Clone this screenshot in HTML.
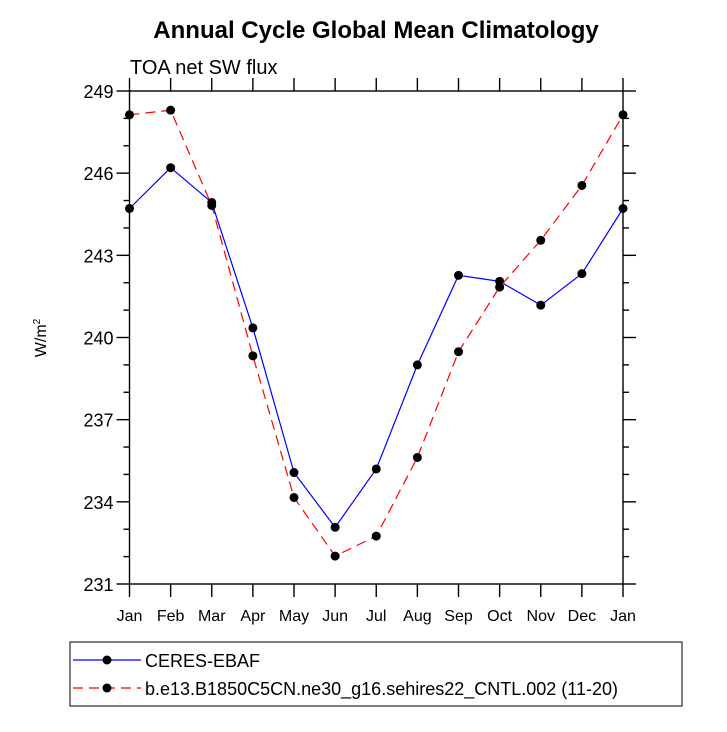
<!DOCTYPE html>
<html><head><meta charset="utf-8"><style>
body{margin:0;background:#fff;}
svg text{font-family:"Liberation Sans",Arial,sans-serif;fill:#000;}
</style></head><body>
<svg id="chart" width="727" height="727" viewBox="0 0 727 727" xmlns="http://www.w3.org/2000/svg">
<text x="376" y="38" text-anchor="middle" font-size="24" font-weight="bold">Annual Cycle Global Mean Climatology</text>
<text x="130" y="74" font-size="20">TOA net SW flux</text>
<text transform="translate(46,338) rotate(-90)" text-anchor="middle" font-size="16">W/m<tspan font-size="10" dy="-6">2</tspan></text>
<g id="axes"></g>
<g id="series"></g>
<g id="legend">
<rect x="70" y="642" width="612" height="64" fill="none" stroke="#000" stroke-width="1"/>
<g>
<line x1="73" y1="660" x2="141" y2="660" stroke="#0000ff" stroke-width="1.2"/>
<circle cx="107" cy="660" r="4.5" fill="#000"/>
<text x="145" y="667" font-size="18">CERES-EBAF</text>
</g>
<g>
<line x1="73" y1="688" x2="141" y2="688" stroke="#ff0000" stroke-width="1.2" stroke-dasharray="10,6"/>
<circle cx="107" cy="688" r="4.5" fill="#000"/>
<text x="145" y="695" font-size="18">b.e13.B1850C5CN.ne30_g16.sehires22_CNTL.002 (11-20)</text>
</g>
</g>
</svg>
<script>
const months = ["Jan","Feb","Mar","Apr","May","Jun","Jul","Aug","Sep","Oct","Nov","Dec","Jan"];
const yTicks = [231,234,237,240,243,246,249];
const ceresValues = [244.71,246.2,244.93,240.35,235.07,233.07,235.2,239.0,242.27,242.05,241.18,242.33,244.71];
const modelValues = [248.13,248.3,244.82,239.33,234.16,232.02,232.75,235.62,239.48,241.84,243.55,245.55,248.13];

const NS="http://www.w3.org/2000/svg";
const L=129.5,R=623,T=91,B=584,yMin=231,yMax=249;
const xs=i=>L+(R-L)*i/(months.length-1);
const ys=v=>B-(B-T)*(v-yMin)/(yMax-yMin);
function mk(tag,attrs,parent){const e=document.createElementNS(NS,tag);for(const k in attrs)e.setAttribute(k,attrs[k]);parent.appendChild(e);return e;}
const ax=document.getElementById('axes');
const frame=mk('rect',{x:L,y:T,width:R-L,height:B-T,fill:'none',stroke:'#000','stroke-width':1.4},ax);


months.forEach((m,i)=>{
  const x=xs(i);
  const t1=mk('line',{x1:x,y1:B,x2:x,y2:B+13,stroke:'#000','stroke-width':1.4},ax);
  
  
  const t2=mk('line',{x1:x,y1:T,x2:x,y2:T-13,stroke:'#000','stroke-width':1.4},ax);
  
  
  const lb=mk('text',{x:x,y:B+37,'text-anchor':'middle','font-size':16},ax);
  lb.textContent=m;
  
  
});
for(let v=yMin;v<=yMax;v++){
  const y=ys(v);const major=yTicks.includes(v);const len=major?13:6;
  const a=mk('line',{x1:L-len,y1:y,x2:L,y2:y,stroke:'#000','stroke-width':1.4},ax);
  
  
  const b=mk('line',{x1:R,y1:y,x2:R+len,y2:y,stroke:'#000','stroke-width':1.4},ax);
  
  
}
yTicks.forEach(v=>{
  const lb=mk('text',{x:L-16,y:ys(v)+7,'text-anchor':'end','font-size':18},ax);
  lb.textContent=v;
  
  
});
const sg=document.getElementById('series');
function series(vals,color,dash,name){
  const g=mk('g',{},sg);
  
  
  const pl=mk('polyline',{points:vals.map((v,i)=>xs(i)+','+ys(v)).join(' '),fill:'none',stroke:color,'stroke-width':1.2,'stroke-dasharray':dash},g);
  
  
  vals.forEach((v,i)=>{
    const c=mk('circle',{cx:xs(i),cy:ys(v),r:4.5,fill:'#000'},g);
    
    
  });
}
series(ceresValues,'#0000ff','none','ceres-series');
series(modelValues,'#ff0000','10,6','model-series');
</script>
</body></html>
